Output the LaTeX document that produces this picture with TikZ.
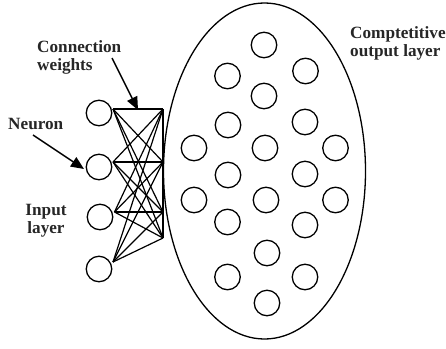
\documentclass[tikz,border=0pt]{standalone}
\usepackage{fontspec}
\setmainfont{Liberation Serif}
\usetikzlibrary{shapes.geometric,arrows.meta}
\begin{document}
\begin{tikzpicture}[x=1pt,y=-1pt,
  neuron/.style={draw, circle, line width=1.3pt, minimum size=25.5pt, inner sep=0pt},
  wire/.style={line width=1.2pt},
  pointer/.style={line width=1.4pt, -{Triangle[length=13pt,width=11pt]}},
  caption/.style={font=\bfseries\fontsize{17.2}{18}\selectfont, inner sep=0pt, text=black!85}]
\useasboundingbox (0,0) rectangle (446,348);

% competitive layer boundary
\node[draw, ellipse, line width=1.3pt, minimum width=202pt, minimum height=336pt, inner sep=0pt] (layer) at (264.5,171) {};

% output neurons
\foreach \x/\y [count=\i] in {264/45, 227.5/76, 305.5/71, 264/96, 228/125, 305/122,
    194/148, 265/148, 335.5/148, 228/175, 305/174, 194/200, 266/200, 335.5/200,
    227.5/222, 305/225, 267/253, 227.5/277, 305/277, 267/303}
  \node[neuron] (out\i) at (\x,\y) {};

% input neurons
\node[neuron] (in1) at (99,113) {};
\node[neuron] (in2) at (99,167) {};
\node[neuron] (in3) at (100,217) {};
\node[neuron] (in4) at (99,269) {};

% wire ends
\coordinate (l1) at (113,109);
\coordinate (l2) at (113,162);
\coordinate (l3) at (114.5,212);
\coordinate (l4) at (113,262);
\coordinate (r1) at (163,109);
\coordinate (r2) at (163,162);
\coordinate (r3) at (163,212);
\coordinate (r4) at (163,238);

% full connection weights
\foreach \a in {1,...,4}
  \foreach \b in {1,...,4}
    \draw[wire] (l\a) -- (r\b);
\draw[wire] (r1) -- (r4);

% labels
\node[caption, anchor=base west] (cw1) at (37,52) {Connection};
\node[caption, anchor=base west] (cw2) at (37,70) {weights};
\node[caption, anchor=base west] (nlab) at (8,129) {Neuron};
\node[caption, anchor=base] (il1) at (46,215) {Input};
\node[caption, anchor=base] (il2) at (46,233) {layer};
\node[caption, anchor=base west] (ol1) at (350,38) {Comptetitive};
\node[caption, anchor=base west] (ol2) at (350,56) {output layer};

% pointers
\coordinate (cwtip) at (138,110);
\coordinate (ntip) at (84,169);
\draw[pointer] (112,58) -- (cwtip);
\draw[pointer] (33,135) -- (ntip);
\end{tikzpicture}
\end{document}
